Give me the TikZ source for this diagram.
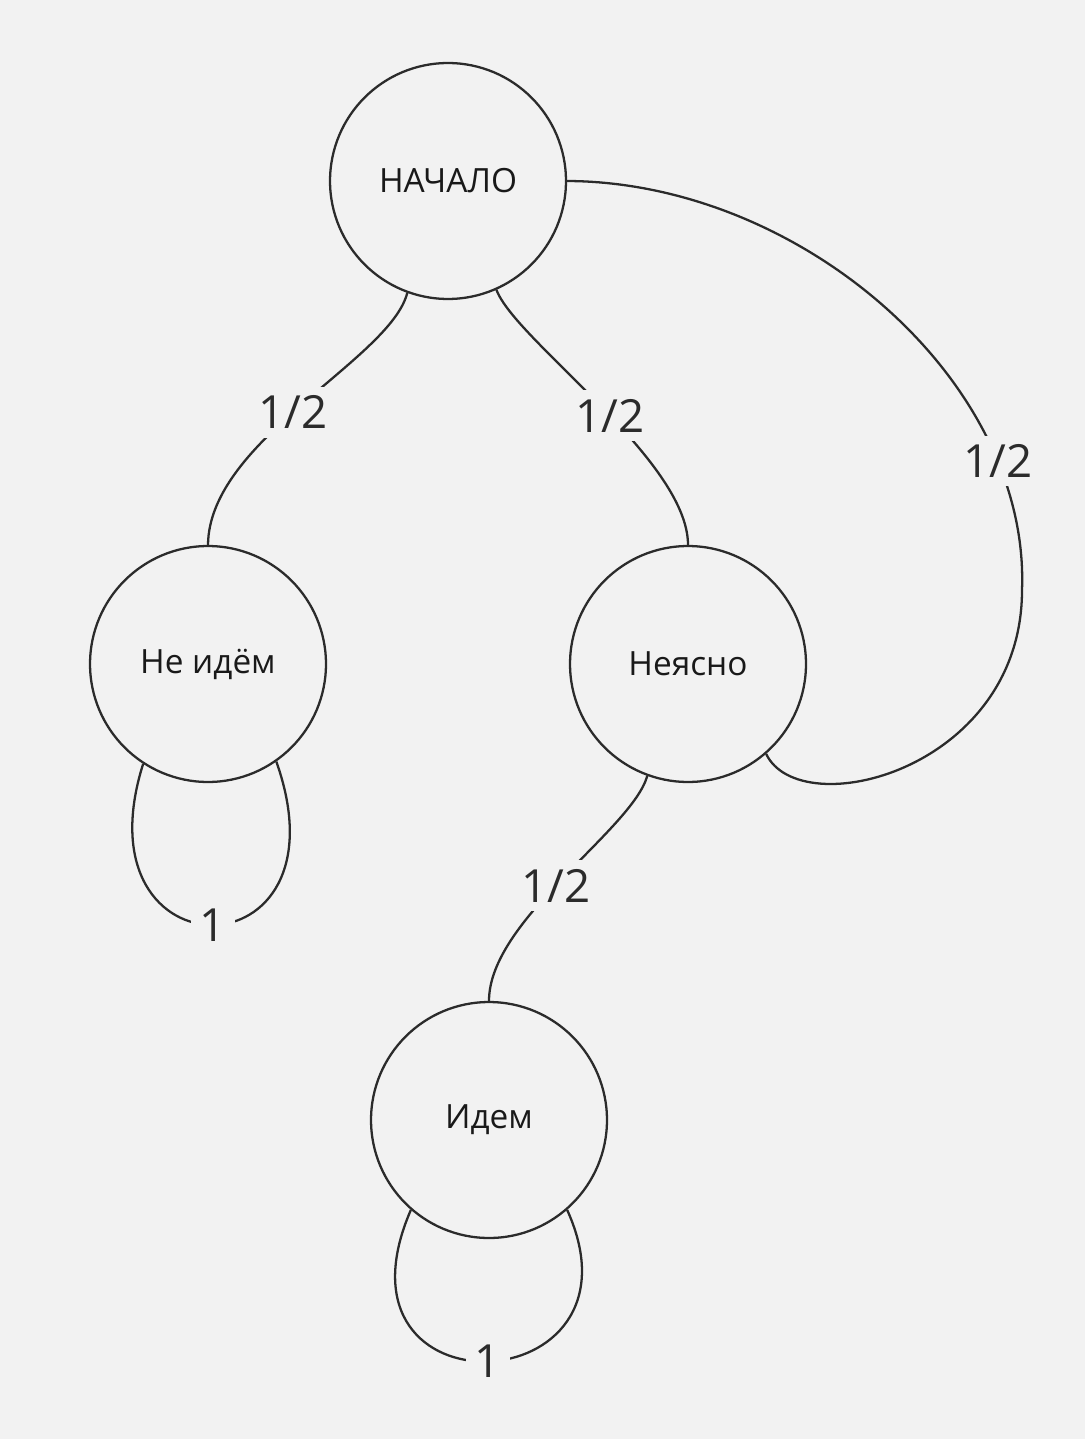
\documentclass[tikz,border=0pt]{standalone}
\usepackage{fontspec}
\setmainfont{Open Sans}
\usepackage{xcolor}
\usepackage{tikz}
\usetikzlibrary{arrows.meta,positioning}
\definecolor{paper}{HTML}{F2F2F2}
\definecolor{ink}{HTML}{2B2B2B}
\begin{document}
\begin{tikzpicture}[x=0.02cm, y=-0.02cm,
  state/.style={circle, draw=ink, line width=1.3pt, minimum size=4.72cm, inner sep=0pt,
                text=black!90, font=\fontsize{19}{22}\selectfont},
  flow/.style={draw=ink, line width=1.3pt},
  prob/.style={fill=paper, text=ink, inner sep=5pt, font=\fontsize{26}{30}\selectfont}
]
\fill[paper] (0,0) rectangle (1085,1439);
\useasboundingbox (0,0) rectangle (1085,1439);
\node[state] (start)   at (448,181)  {НАЧАЛО};
\node[state] (noway)   at (208,664)  {Не идём};
\node[state] (unclear) at (688,664)  {Неясно};
\node[state] (going)   at (489,1120) {Идем};
\draw[flow] (start.-110) .. controls (390,360) and (209,440) .. node[prob, pos=0.53] {1/2} (noway.north);
\draw[flow] (start.-66) .. controls (515,340) and (688,460) .. node[prob, pos=0.54] {1/2} (unclear.north);
\draw[flow] (start.east) .. controls (800,182) and (1030,380) .. node[prob, pos=0.79] {1/2} (1022,590)
  .. controls (1022,770) and (800,825) .. (unclear.-49);
\draw[flow] (unclear.-110) .. controls (632,830) and (489,920) .. node[prob, pos=0.53] {1/2} (going.north);
\draw[flow] (noway.-123) .. controls (75,980) and (353,978) .. node[prob] {1} (noway.-55);
\draw[flow] (going.-131) .. controls (320,1420) and (655,1404) .. node[prob] {1} (going.-49);
\end{tikzpicture}
\end{document}
